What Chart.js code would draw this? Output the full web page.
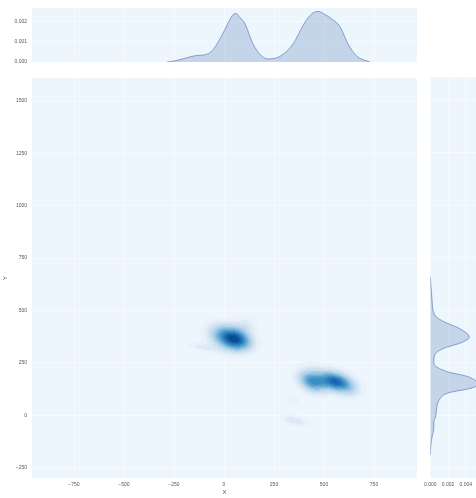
<!DOCTYPE html>
<html>
<head>
<meta charset="utf-8">
<script src="https://cdn.jsdelivr.net/npm/chart.js@4.4.0/dist/chart.umd.min.js"></script>
<style>
  html, body { margin: 0; padding: 0; background: #fff; }
  #wrap { position: relative; width: 476px; height: 498px; overflow: hidden; }
  .box { position: absolute; }
</style>
</head>
<body>
<div id="wrap">
  <div class="box" style="left:0;top:0;width:420px;height:70px"><canvas id="topKde" width="420" height="70"></canvas></div>
  <div class="box" style="left:0;top:70px;width:420px;height:428px"><canvas id="jointKde" width="420" height="428"></canvas></div>
  <div class="box" style="left:420px;top:70px;width:56px;height:428px"><canvas id="rightKde" width="56" height="428"></canvas></div>
</div>
<script>
// marginal density of X (top panel)
const topX = [-285, -250, -200, -145, -95, -65, -35, 15, 40, 60, 80, 105, 145, 190, 220, 280, 345, 405, 445, 470, 505, 540, 580, 620, 665, 715, 730];
const topDensity = [0, 0.00005, 0.00017, 0.00031, 0.00036, 0.0005, 0.00089, 0.00181, 0.00228, 0.0024, 0.0022, 0.00189, 0.00089, 0.00028, 0.00015, 0.00028, 0.00089, 0.00197, 0.00243, 0.0025, 0.00235, 0.00212, 0.00175, 0.00089, 0.00028, 0.00005, 0];

// marginal density of Y (right panel)
const rightY = [-190, -129, -105, -62, -33, -10, 24, 71, 105, 129, 152, 167, 186, 205, 248, 286, 319, 343, 371, 414, 443, 476, 548, 657];
const rightDensity = [0, 0.0001, 0.0002, 0.0004, 0.0004, 0.0006, 0.0007, 0.001, 0.002, 0.0047, 0.0054, 0.005, 0.004, 0.002, 0.0004, 0.0005, 0.0016, 0.0034, 0.0044, 0.0032, 0.0016, 0.0005, 0.0002, 0];

// joint density blobs: centre, spread, correlation, weight
const blobX   = [25, 75, 110, -110, 440, 565, 510, 640, 345, 355];
const blobY   = [372, 360, 430, 328, 160, 160, 175, 115, 70, -25];
const blobSX  = [65, 50, 45, 55, 45, 55, 95, 38, 26, 50];
const blobSY  = [44, 32, 40, 18, 35, 32, 45, 28, 20, 19];
const blobRho = [-0.3, -0.3, 0.2, -0.6, -0.3, -0.35, -0.35, 0, 0, -0.55];
const blobW   = [1.0, 0.5, 0.2, 0.2, 0.75, 0.95, 0.3, 0.15, 0.15, 0.28];

const xTickStep = 250, yTickStep = 250;
const levelCount = 14;

const panelColor = '#edf5fd';
const gridColor = 'rgba(255,255,255,0.5)';
const tickFont = { family: 'Liberation Sans', size: 5 };
const tickColor = '#555';
const lineColor = 'rgba(76,114,176,0.6)';
const fillColor = 'rgba(76,114,176,0.25)';

const blues = ['#f7fbff', '#deebf7', '#c6dbef', '#9ecae1', '#6baed6', '#4292c6', '#2171b5', '#08519c', '#08306b'];
function bluesAt(t) {
  const p = Math.max(0, Math.min(1, t)) * (blues.length - 1);
  const i = Math.min(Math.floor(p), blues.length - 2), f = p - i;
  const a = parseInt(blues[i].slice(1), 16), b = parseInt(blues[i + 1].slice(1), 16);
  const ch = s => Math.round(((a >> s) & 255) * (1 - f) + ((b >> s) & 255) * f);
  return 'rgb(' + ch(16) + ',' + ch(8) + ',' + ch(0) + ')';
}

const minusFmt = v => String(v).replace('-', '\u2212');

const panelBg = {
  id: 'panelBg',
  beforeDraw(chart) {
    const a = chart.chartArea, ctx = chart.ctx;
    ctx.save();
    ctx.fillStyle = panelColor;
    ctx.fillRect(a.left, a.top, a.right - a.left, a.bottom - a.top);
    ctx.restore();
  }
};

function density(x, y) {
  let s = 0;
  for (let i = 0; i < blobX.length; i++) {
    const dx = (x - blobX[i]) / blobSX[i], dy = (y - blobY[i]) / blobSY[i], r = blobRho[i];
    s += blobW[i] * Math.exp(-0.5 * (dx * dx - 2 * r * dx * dy + dy * dy) / (1 - r * r));
  }
  return s;
}

const kdeShade = {
  id: 'kdeShade',
  beforeDatasetsDraw(chart) {
    const xs = chart.scales.x, ys = chart.scales.y, a = chart.chartArea, ctx = chart.ctx;
    const step = 5, cells = [];
    let max = 0;
    for (let x = -400; x <= 900; x += step) {
      for (let y = -250; y <= 650; y += step) {
        const v = density(x, y);
        if (v > max) max = v;
        cells.push([x, y, v]);
      }
    }
    ctx.save();
    ctx.beginPath();
    ctx.rect(a.left, a.top, a.right - a.left, a.bottom - a.top);
    ctx.clip();
    cells.forEach(([x, y, v]) => {
      let band = Math.floor(v / max * (levelCount + 1));
      if (band < 1) return;
      band = Math.min(band, levelCount);
      ctx.fillStyle = bluesAt(0.07 + (band - 1) / (levelCount - 1) * 0.83);
      const x0 = xs.getPixelForValue(x - step / 2), x1 = xs.getPixelForValue(x + step / 2);
      const y0 = ys.getPixelForValue(y + step / 2), y1 = ys.getPixelForValue(y - step / 2);
      ctx.fillRect(x0, y0, x1 - x0 + 0.6, y1 - y0 + 0.6);
    });
    ctx.restore();
  }
};

const common = {
  responsive: false,
  animation: false,
  plugins: { legend: { display: false }, tooltip: { enabled: false } }
};

// main joint panel
new Chart(document.getElementById('jointKde'), {
  type: 'scatter',
  data: { datasets: [{ data: [] }] },
  plugins: [panelBg, kdeShade],
  options: {
    ...common,
    layout: { padding: { top: 7, right: 3, left: 0, bottom: 0 } },
    scales: {
      x: {
        type: 'linear', min: -960, max: 965,
        afterFit: s => { s.height = 20; },
        border: { display: false },
        grid: { color: gridColor, drawTicks: false },
        ticks: { stepSize: xTickStep, includeBounds: false, padding: 4, maxRotation: 0, font: tickFont, color: tickColor, callback: minusFmt },
        title: { display: true, text: 'X', font: { family: 'Liberation Sans', size: 6 }, color: tickColor, padding: { top: 0, bottom: 2 } }
      },
      y: {
        type: 'linear', min: -300, max: 1610,
        afterFit: s => { s.width = 32; },
        border: { display: false },
        grid: { color: gridColor, drawTicks: false },
        ticks: { stepSize: yTickStep, includeBounds: false, padding: 5, font: tickFont, color: tickColor, callback: minusFmt },
        title: { display: true, text: 'Y', font: { family: 'Liberation Sans', size: 6 }, color: tickColor, padding: { top: 2, bottom: 0 } }
      }
    }
  }
});

// top marginal
new Chart(document.getElementById('topKde'), {
  type: 'line',
  data: {
    datasets: [{
      data: topX.map((x, i) => ({ x: x, y: topDensity[i] })),
      borderColor: lineColor, borderWidth: 1, backgroundColor: fillColor,
      fill: 'origin', pointRadius: 0, cubicInterpolationMode: 'monotone'
    }]
  },
  plugins: [panelBg],
  options: {
    ...common,
    layout: { padding: { top: 8, right: 3, left: 0, bottom: 4 } },
    scales: {
      x: {
        type: 'linear', min: -960, max: 965,
        afterFit: s => { s.height = 0; },
        border: { display: false },
        grid: { color: gridColor, drawTicks: false },
        ticks: { stepSize: xTickStep, includeBounds: false, display: false }
      },
      y: {
        type: 'linear', min: 0, max: 0.00267,
        afterFit: s => { s.width = 32; },
        border: { display: false },
        grid: { color: gridColor, drawTicks: false },
        ticks: { stepSize: 0.001, includeBounds: false, padding: 5, font: tickFont, color: tickColor, callback: v => v.toFixed(3) }
      }
    }
  }
});

// right marginal
new Chart(document.getElementById('rightKde'), {
  type: 'line',
  data: {
    datasets: [{
      data: rightY.map((y, i) => ({ x: rightDensity[i], y: y })),
      borderColor: lineColor, borderWidth: 1, backgroundColor: fillColor,
      fill: 'shape', pointRadius: 0, cubicInterpolationMode: 'monotone'
    }]
  },
  plugins: [panelBg],
  options: {
    ...common,
    indexAxis: 'y',
    layout: { padding: { top: 7, right: 0, left: 8, bottom: 0 } },
    scales: {
      x: {
        type: 'linear', min: 0, max: 0.00515,
        afterFit: s => { s.height = 20; },
        border: { display: false },
        grid: { color: gridColor, drawTicks: false },
        ticks: { stepSize: 0.002, includeBounds: false, padding: 4, maxRotation: 0, autoSkip: false, font: tickFont, color: tickColor, callback: v => v.toFixed(3) }
      },
      y: {
        type: 'linear', min: -300, max: 1610,
        afterFit: s => { s.width = 0; },
        border: { display: false },
        grid: { color: gridColor, drawTicks: false },
        ticks: { stepSize: yTickStep, includeBounds: false, display: false }
      }
    }
  }
});
</script>
</body>
</html>
